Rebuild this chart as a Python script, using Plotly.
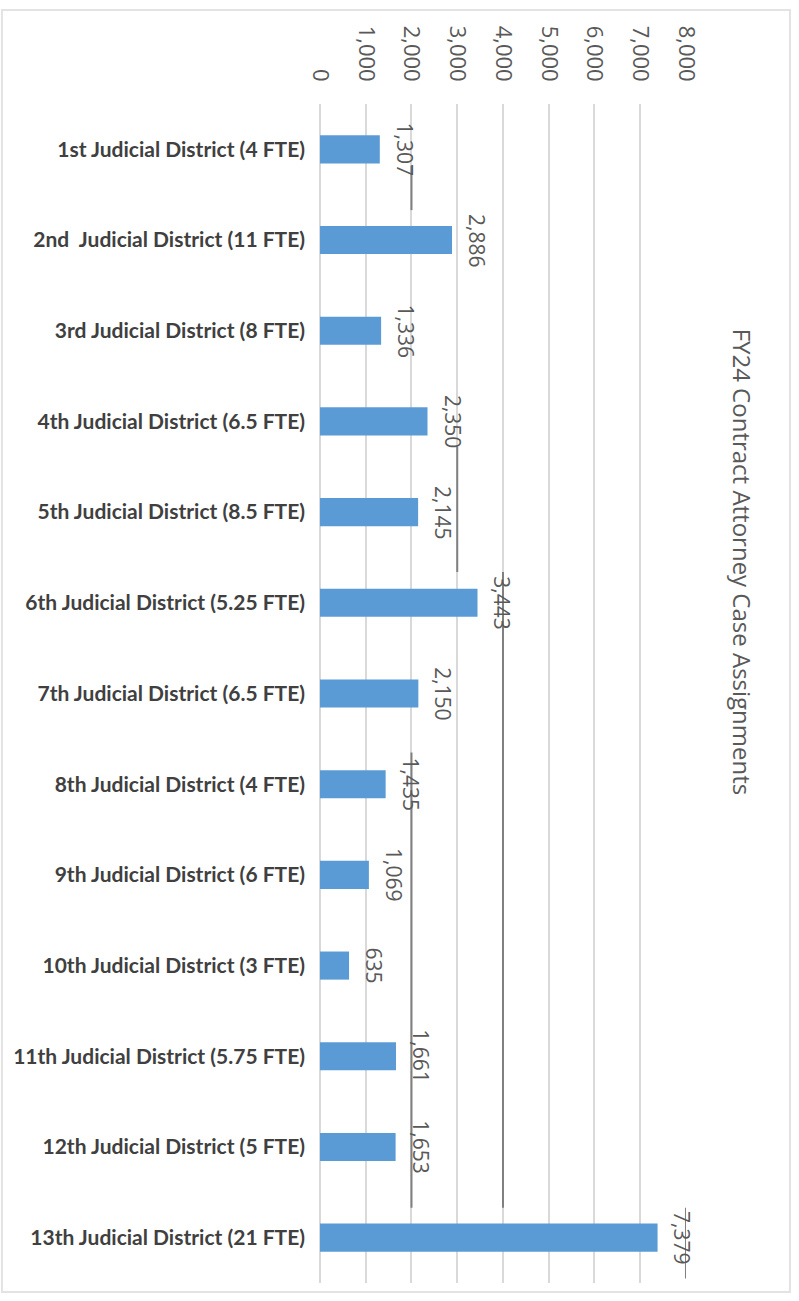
import plotly.graph_objects as go

# Contract attorney case assignments by judicial district, FY24
districts = [
    "1st Judicial District (4 FTE)",
    "2nd  Judicial District (11 FTE)",
    "3rd Judicial District (8 FTE)",
    "4th Judicial District (6.5 FTE)",
    "5th Judicial District (8.5 FTE)",
    "6th Judicial District (5.25 FTE)",
    "7th Judicial District (6.5 FTE)",
    "8th Judicial District (4 FTE)",
    "9th Judicial District (6 FTE)",
    "10th Judicial District (3 FTE)",
    "11th Judicial District (5.75 FTE)",
    "12th Judicial District (5 FTE)",
    "13th Judicial District (21 FTE)",
]
cases = [1307, 2886, 1336, 2350, 2145, 3443, 2150, 1435, 1069, 635, 1661, 1653, 7379]

tick_vals = [0, 1000, 2000, 3000, 4000, 5000, 6000, 7000, 8000]
tick_text = ["0", "1,000", "2,000", "3,000", "4,000", "5,000", "6,000", "7,000", "8,000"]

title_text = "FY24 Contract Attorney Case Assignments"

BAR = "#5B9BD5"
GRID = "#D9D9D9"
TXT = "#595959"
LBL = "#404040"

fig = go.Figure(
    go.Bar(
        x=cases,
        y=list(range(len(districts))),
        orientation="h",
        marker=dict(color=BAR, line=dict(width=0)),
        width=0.31,
        hoverinfo="skip",
    )
)

# rotated value labels just past each bar end
for i, v in enumerate(cases):
    fig.add_annotation(
        x=v, y=i, xref="x", yref="y",
        text=f"{v:,}", textangle=90,
        showarrow=False, xanchor="left", yanchor="middle", xshift=9,
        font=dict(family="Open Sans", size=21, color=TXT),
    )

# chart title, rotated along the right side
fig.add_annotation(
    x=1.153, y=0.611, xref="paper", yref="paper",
    text=title_text, textangle=90, showarrow=False,
    xanchor="center", yanchor="middle",
    font=dict(family="Open Sans", size=24, color=TXT),
)

# leader-line remnants drawn over the grid
segs = [
    (2000, 0.18, 0.67),
    (3000, 3.28, 4.66),
    (4000, 4.66, 11.67),
    (2000, 6.65, 11.67),
    (8000, 11.67, 12.45),
]
for xv, y0, y1 in segs:
    fig.add_shape(type="line", xref="x", yref="y", x0=xv, x1=xv, y0=y0, y1=y1,
                  line=dict(color="#808080", width=2), layer="above")

# light outer frame
fig.add_shape(type="rect", xref="paper", yref="paper",
              x0=-0.869, x1=1.284, y0=-0.0076, y1=1.0797,
              line=dict(color="#E3E3E3", width=2), fillcolor="rgba(0,0,0,0)")

fig.update_layout(
    width=799, height=1301,
    margin=dict(l=320, r=113, t=104, b=18),
    paper_bgcolor="white", plot_bgcolor="white",
    showlegend=False,
    xaxis=dict(
        side="top", range=[0, 8000.5],
        tickvals=tick_vals, ticktext=tick_text, tickangle=90,
        tickfont=dict(family="Open Sans", size=22, color=TXT),
        showgrid=True, gridcolor=GRID, gridwidth=2,
        zeroline=True, zerolinecolor=GRID, zerolinewidth=2,
        showline=False, ticks="", ticklabelstandoff=18,
        fixedrange=True,
    ),
    yaxis=dict(
        range=[12.5, -0.5],
        tickvals=list(range(len(districts))), ticktext=districts,
        tickfont=dict(family="Lato", size=21, color=LBL, weight="bold"),
        showgrid=False, zeroline=False, showline=False, ticks="",
        ticklabelstandoff=14, fixedrange=True,
    ),
)

fig.write_html("out.html")
